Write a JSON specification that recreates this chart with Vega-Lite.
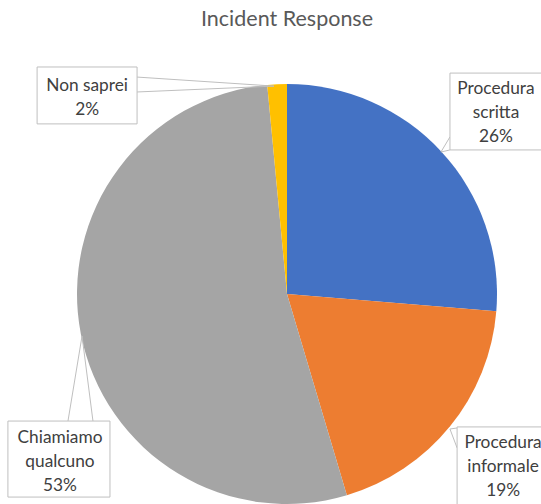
{
  "$schema": "https://vega.github.io/schema/vega-lite/v6.json",
  "width": 574,
  "height": 504,
  "autosize": {"type": "none"},
  "padding": 0,
  "background": "white",
  "title": {
    "text": "Incident Response",
    "font": "Lato",
    "fontSize": 21.5,
    "fontWeight": "normal",
    "color": "#595959",
    "anchor": "middle",
    "frame": "group",
    "baseline": "alphabetic",
    "offset": -47
  },
  "config": {"view": {"stroke": null}},
  "datasets": {
    "slices": [
      {"categoria": "Procedura scritta", "valore": 26.3, "ordine": 1},
      {"categoria": "Procedura informale", "valore": 19.1, "ordine": 2},
      {"categoria": "Chiamiamo qualcuno", "valore": 53.1, "ordine": 3},
      {"categoria": "Non saprei", "valore": 1.5, "ordine": 4}
    ],
    "etichette": [
      {"categoria": "Procedura scritta", "testo": "Procedura\nscritta\n26%", "cx": 0.995, "cy": 0.976, "x0": 0.776, "x1": 1.214, "y0": 0.686, "y1": 1.052},
      {"categoria": "Procedura informale", "testo": "Procedura\ninformale\n19%", "cx": 1.029, "cy": -0.71, "x0": 0.81, "x1": 1.248, "y0": -1.1, "y1": -0.633},
      {"categoria": "Chiamiamo qualcuno", "testo": "Chiamiamo\nqualcuno\n53%", "cx": -1.081, "cy": -0.686, "x0": -1.329, "x1": -0.843, "y0": -0.967, "y1": -0.605},
      {"categoria": "Non saprei", "testo": "Non saprei\n2%", "cx": -0.952, "cy": 0.99, "x0": -1.19, "x1": -0.714, "y0": 0.81, "y1": 1.081}
    ],
    "richiami": [
      {"categoria": "Procedura scritta", "k": 1, "u": 0.776, "v": 0.748},
      {"categoria": "Procedura scritta", "k": 2, "u": 0.733, "v": 0.676},
      {"categoria": "Procedura scritta", "k": 3, "u": 0.776, "v": 0.686},
      {"categoria": "Procedura informale", "k": 1, "u": 0.81, "v": -0.638},
      {"categoria": "Procedura informale", "k": 2, "u": 0.776, "v": -0.643},
      {"categoria": "Procedura informale", "k": 3, "u": 0.81, "v": -0.733},
      {"categoria": "Chiamiamo qualcuno", "k": 1, "u": -1.043, "v": -0.605},
      {"categoria": "Chiamiamo qualcuno", "k": 2, "u": -0.976, "v": -0.2},
      {"categoria": "Chiamiamo qualcuno", "k": 3, "u": -0.924, "v": -0.605},
      {"categoria": "Non saprei", "k": 1, "u": -0.714, "v": 1.033},
      {"categoria": "Non saprei", "k": 2, "u": -0.062, "v": 0.99},
      {"categoria": "Non saprei", "k": 3, "u": -0.714, "v": 0.962}
    ]
  },
  "resolve": {"scale": {"x": "shared", "y": "shared"}},
  "layer": [
    {
      "data": {"name": "slices"},
      "mark": {"type": "arc", "outerRadius": 210},
      "encoding": {
        "theta": {"field": "valore", "type": "quantitative", "stack": true},
        "order": {"field": "ordine", "type": "quantitative"},
        "color": {
          "field": "categoria",
          "type": "nominal",
          "scale": {
            "domain": ["Procedura scritta", "Procedura informale", "Chiamiamo qualcuno", "Non saprei"],
            "range": ["#4472C4", "#ED7D31", "#A5A5A5", "#FFC000"]
          },
          "legend": null
        },
        "x": {"datum": 0, "type": "quantitative", "scale": {"domain": [-1.3667, 1.3667], "nice": false, "zero": false}, "axis": null},
        "y": {"datum": 0, "type": "quantitative", "scale": {"domain": [-1, 1.4], "nice": false, "zero": false}, "axis": null}
      }
    },
    {
      "data": {"name": "richiami"},
      "mark": {"type": "line", "color": "#BFBFBF", "strokeWidth": 1},
      "encoding": {
        "x": {"field": "u", "type": "quantitative", "axis": null},
        "y": {"field": "v", "type": "quantitative", "axis": null},
        "detail": {"field": "categoria", "type": "nominal"},
        "order": {"field": "k", "type": "quantitative"}
      }
    },
    {
      "data": {"name": "etichette"},
      "mark": {"type": "rect", "fill": "white", "stroke": "#BFBFBF", "strokeWidth": 1},
      "encoding": {
        "x": {"field": "x0", "type": "quantitative", "axis": null},
        "x2": {"field": "x1"},
        "y": {"field": "y0", "type": "quantitative", "axis": null},
        "y2": {"field": "y1"}
      }
    },
    {
      "data": {"name": "etichette"},
      "mark": {"type": "text", "font": "Lato", "fontSize": 17.3, "color": "#404040", "lineBreak": "\n", "lineHeight": 24, "align": "center", "baseline": "middle"},
      "encoding": {
        "x": {"field": "cx", "type": "quantitative", "axis": null},
        "y": {"field": "cy", "type": "quantitative", "axis": null},
        "text": {"field": "testo", "type": "nominal"}
      }
    }
  ]
}
